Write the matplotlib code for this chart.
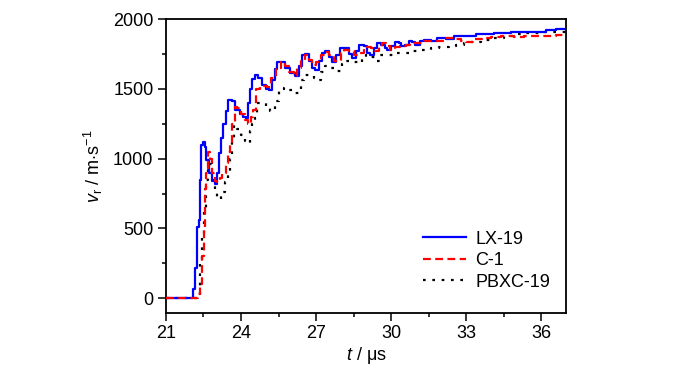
import matplotlib.pyplot as plt
from matplotlib.ticker import MultipleLocator

t_lx = [21.0, 22.05, 22.1, 22.18, 22.24, 22.32, 22.36, 22.42, 22.47, 22.55, 22.62, 22.72, 22.85, 22.95,
        23.05, 23.12, 23.22, 23.3, 23.4, 23.5, 23.65, 23.75, 23.95, 24.1, 24.22, 24.3, 24.38, 24.45,
        24.55, 24.7, 24.85, 25.0, 25.12, 25.25, 25.35, 25.45, 25.6, 25.75, 25.95, 26.15, 26.3, 26.42,
        26.55, 26.7, 26.85, 26.95, 27.1, 27.22, 27.35, 27.5, 27.65, 27.8, 27.95, 28.1, 28.3, 28.45,
        28.6, 28.72, 28.9, 29.05, 29.15, 29.3, 29.45, 29.6, 29.75, 29.85, 30.0, 30.15, 30.3, 30.4,
        30.55, 30.7, 30.85, 30.95, 31.15, 31.3, 31.6, 31.85, 32.2, 32.5, 33.0, 33.4, 33.8, 34.1,
        34.8, 35.2, 35.7, 36.2, 36.6, 37.0]
v_lx = [0, 0, 70, 215, 510, 560, 850, 1100, 1120, 1080, 990, 900, 840, 820,
        900, 1040, 1150, 1250, 1340, 1420, 1410, 1350, 1320, 1300, 1290, 1400, 1500, 1570,
        1600, 1580, 1530, 1500, 1495, 1560, 1640, 1690, 1695, 1650, 1610, 1590, 1660, 1740,
        1750, 1700, 1650, 1635, 1700, 1760, 1770, 1730, 1690, 1740, 1790, 1790, 1750, 1720,
        1770, 1815, 1810, 1760, 1745, 1790, 1825, 1815, 1790, 1780, 1810, 1838, 1830, 1805,
        1815, 1840, 1835, 1815, 1840, 1850, 1845, 1865, 1860, 1878, 1878, 1892, 1895, 1900,
        1905, 1907, 1910, 1918, 1925, 1928]

t_c1 = [21.0, 22.15, 22.3, 22.38, 22.45, 22.52, 22.56, 22.62, 22.69, 22.75, 22.85, 22.95, 23.05, 23.15,
        23.25, 23.4, 23.5, 23.56, 23.65, 23.75, 23.85, 24.0, 24.15, 24.28, 24.4, 24.5, 24.6, 24.75,
        24.9, 25.05, 25.2, 25.4, 25.6, 25.75, 25.9, 26.1, 26.25, 26.4, 26.55, 26.7, 26.85, 27.0,
        27.2, 27.35, 27.5, 27.7, 27.85, 28.0, 28.1, 28.3, 28.5, 28.7, 28.9, 29.05, 29.2, 29.35,
        29.5, 29.65, 29.8, 29.95, 30.15, 30.35, 30.6, 30.75, 31.0, 31.3, 31.7, 32.1, 32.5, 32.8,
        33.0, 33.3, 33.7, 34.0, 34.4, 34.9, 35.3, 35.9, 36.3, 36.6, 37.0]
v_c1 = [0, 0, 30, 100, 300, 500, 780, 900, 1050, 1000, 900, 840, 830, 860,
        900, 970, 1050, 1110, 1250, 1370, 1360, 1320, 1280, 1250, 1300, 1350, 1500, 1520,
        1520, 1515, 1580, 1650, 1690, 1660, 1620, 1595, 1650, 1710, 1745, 1710, 1670, 1690,
        1740, 1765, 1740, 1700, 1700, 1760, 1780, 1770, 1740, 1760, 1790, 1800, 1790, 1770,
        1800, 1825, 1805, 1778, 1800, 1810, 1815, 1830, 1825, 1840, 1845, 1862, 1855, 1840,
        1838, 1860, 1862, 1870, 1875, 1872, 1878, 1878, 1880, 1885, 1895]

t_pb = [21.0, 22.15, 22.28, 22.36, 22.45, 22.52, 22.6, 22.7, 22.75, 22.85, 22.95, 23.05, 23.2, 23.35,
        23.48, 23.55, 23.63, 23.72, 23.85, 24.0, 24.15, 24.28, 24.38, 24.45, 24.55, 24.65, 24.8,
        25.0, 25.15, 25.25, 25.35, 25.5, 25.7, 25.9, 26.1, 26.25, 26.38, 26.5, 26.7, 26.9, 27.05,
        27.2, 27.35, 27.55, 27.75, 27.9, 28.05, 28.2, 28.45, 28.7, 28.85, 29.0, 29.2, 29.4, 29.55,
        29.8, 30.1, 30.5, 30.8, 31.2, 31.6, 31.9, 32.3, 32.6, 32.9, 33.2, 33.6, 34.0, 34.5, 35.0,
        35.4, 35.9, 36.5, 37.0]
v_pb = [0, 0, 25, 250, 450, 650, 850, 950, 960, 850, 760, 710, 760, 830,
        880, 1000, 1130, 1240, 1210, 1170, 1130, 1110, 1200, 1250, 1290, 1400, 1400,
        1370, 1340, 1340, 1410, 1500, 1505, 1490, 1470, 1470, 1560, 1600, 1595, 1575, 1565,
        1620, 1660, 1650, 1630, 1625, 1680, 1700, 1695, 1685, 1720, 1745, 1730, 1700, 1740,
        1745, 1756, 1760, 1768, 1778, 1790, 1802, 1808, 1815, 1828, 1838, 1850, 1862, 1880, 1890,
        1900, 1905, 1907, 1910]

plt.rcParams['font.family'] = ['Liberation Sans', 'DejaVu Sans']
plt.rcParams['font.size'] = 13
plt.rcParams['mathtext.fontset'] = 'custom'
plt.rcParams['mathtext.it'] = 'Liberation Sans:italic'
plt.rcParams['mathtext.rm'] = 'Liberation Sans'

fig = plt.figure(figsize=(7, 3.73), dpi=100)
ax = fig.add_axes([0.237, 0.161, 0.572, 0.788])

ax.plot(t_pb, v_pb, color='black', lw=1.6, ls=(0, (1.2, 3.0)), drawstyle='steps-post',
        label='PBXC-19', zorder=2)
ax.plot(t_lx, v_lx, color='#0000ff', lw=1.6, drawstyle='steps-post', label='LX-19', zorder=3)
ax.plot(t_c1, v_c1, color='#ff0000', lw=1.6, ls=(0, (3.5, 2.0)), drawstyle='steps-post',
        label='C-1', zorder=4)

ax.set_xlim(21, 37)
ax.set_ylim(-105, 2000)
ax.xaxis.set_major_locator(MultipleLocator(3))
ax.xaxis.set_minor_locator(MultipleLocator(1.5))
ax.yaxis.set_major_locator(MultipleLocator(500))
ax.yaxis.set_minor_locator(MultipleLocator(250))
ax.tick_params(which='both', direction='out', top=False, right=False, width=1.1)
ax.tick_params(which='major', length=6, pad=3)
ax.tick_params(which='minor', length=3)
for s in ax.spines.values():
    s.set_linewidth(1.3)

ax.set_xlabel('$t$ / μs', labelpad=2)
ax.set_ylabel('$v_\\mathrm{r}$ / m$\\cdot$s$^{-1}$', labelpad=6)

h, l = ax.get_legend_handles_labels()
order = [1, 2, 0]
ax.legend([h[i] for i in order], [l[i] for i in order], loc='lower right',
          bbox_to_anchor=(1.0, 0.02), frameon=False, handlelength=2.4,
          handletextpad=0.5, labelspacing=0.25)

fig.savefig('out.png', dpi=100)
